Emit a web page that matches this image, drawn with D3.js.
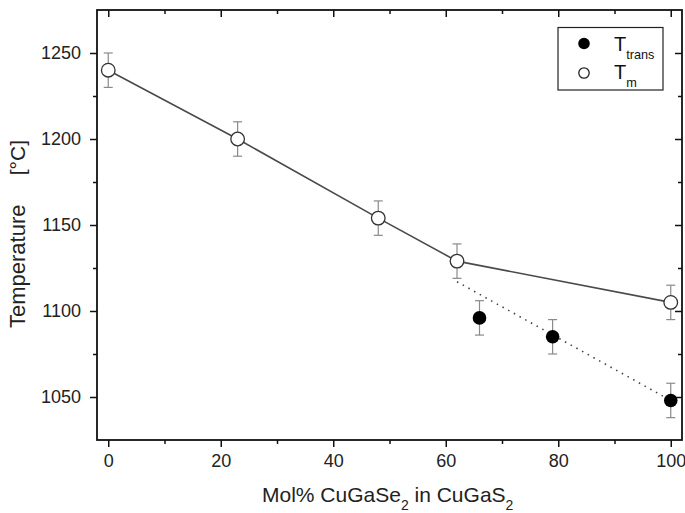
<!DOCTYPE html>
<html>
<head>
<meta charset="utf-8">
<script src="https://cdn.jsdelivr.net/npm/d3@7"></script>
<style>
  body { margin: 0; background: #fff; }
  svg { font-family: "Liberation Sans", Arial, sans-serif; }
</style>
</head>
<body>
<svg width="685" height="513"></svg>
<script>
// data
var meltX = [0, 23, 48, 62, 100];
var meltY = [1240, 1200, 1154, 1129, 1105];
var meltErr = [10, 10, 10, 10, 10];

var transX = [66, 79, 100];
var transY = [1096, 1085, 1048];
var transErr = [10, 10, 10];

// dotted guide through the transition points
var fitX = [62, 100];
var fitY = [1117, 1048];

var xTicks = [0, 20, 40, 60, 80, 100];
var yTicks = [1050, 1100, 1150, 1200, 1250];

var svg = d3.select("svg");
var box = { left: 97, right: 682, top: 10, bottom: 440 };

var x = d3.scaleLinear().domain([-2, 102]).range([box.left, box.right]);
var y = d3.scaleLinear().domain([1025, 1275]).range([box.bottom, box.top]);

var minorX = d3.range(0, 101, 10);
var minorY = d3.range(1050, 1275, 25);

// axes: outer ticks on left/bottom, inner ticks on top/right
var axBottom = svg.append("g")
    .attr("transform", `translate(0, ${box.bottom})`)
    .call(d3.axisBottom(x).tickValues(minorX).tickSize(7).tickPadding(7)
      .tickFormat(d => xTicks.includes(d) ? d : ""));
axBottom.selectAll(".tick line").filter(d => !xTicks.includes(d)).attr("y2", 4);

var axLeft = svg.append("g")
    .attr("transform", `translate(${box.left}, 0)`)
    .call(d3.axisLeft(y).tickValues(minorY).tickSize(7).tickPadding(9)
      .tickFormat(d => yTicks.includes(d) ? d : ""));
axLeft.selectAll(".tick line").filter(d => !yTicks.includes(d)).attr("x2", -4);

var axTop = svg.append("g")
    .attr("transform", `translate(0, ${box.top})`)
    .call(d3.axisTop(x).tickValues(minorX).tickSize(-7).tickFormat(""));
axTop.selectAll(".tick line").filter(d => !xTicks.includes(d)).attr("y2", 4);

var axRight = svg.append("g")
    .attr("transform", `translate(${box.right}, 0)`)
    .call(d3.axisRight(y).tickValues(minorY).tickSize(-7).tickFormat(""));
axRight.selectAll(".tick line").filter(d => !yTicks.includes(d)).attr("x2", -4);

svg.selectAll(".domain").remove();
svg.selectAll(".tick line").attr("stroke", "#111").attr("stroke-width", 1.5);
svg.selectAll(".tick text").attr("font-size", 18).attr("fill", "#222")
    .attr("font-family", "Liberation Sans, Arial, sans-serif");

svg.append("rect")
    .attr("x", box.left).attr("y", box.top)
    .attr("width", box.right - box.left).attr("height", box.bottom - box.top)
    .attr("fill", "none").attr("stroke", "#111").attr("stroke-width", 1.8);

// lines
var melt = meltX.map((d, i) => ({ x: d, y: meltY[i], e: meltErr[i] }));
var trans = transX.map((d, i) => ({ x: d, y: transY[i], e: transErr[i] }));
var fit = fitX.map((d, i) => ({ x: d, y: fitY[i] }));

var line = d3.line().x(d => x(d.x)).y(d => y(d.y));

svg.append("path")
    .attr("d", line(fit))
    .attr("fill", "none")
    .attr("stroke", "#444")
    .attr("stroke-width", 1.6)
    .attr("stroke-dasharray", "1.5 5");

svg.append("path")
    .attr("d", line(melt))
    .attr("fill", "none")
    .attr("stroke", "#4a4a4a")
    .attr("stroke-width", 1.6);

// error bars
function errorBars(data) {
  var g = svg.append("g").attr("stroke", "#8a8a8a").attr("stroke-width", 1.2);
  data.forEach(d => {
    var cx = x(d.x);
    g.append("line").attr("x1", cx).attr("x2", cx).attr("y1", y(d.y - d.e)).attr("y2", y(d.y + d.e));
    [d.y - d.e, d.y + d.e].forEach(v => {
      g.append("line").attr("x1", cx - 4.5).attr("x2", cx + 4.5).attr("y1", y(v)).attr("y2", y(v));
    });
  });
}
errorBars(melt);
errorBars(trans);

svg.selectAll(".melt")
  .data(melt)
  .enter()
  .append("circle")
    .attr("cx", d => x(d.x))
    .attr("cy", d => y(d.y))
    .attr("r", 6.8)
    .attr("fill", "#fff")
    .attr("stroke", "#333")
    .attr("stroke-width", 1.3);

svg.selectAll(".trans")
  .data(trans)
  .enter()
  .append("circle")
    .attr("cx", d => x(d.x))
    .attr("cy", d => y(d.y))
    .attr("r", 6.8)
    .attr("fill", "#000");

// legend
var lg = svg.append("g");
lg.append("rect")
    .attr("x", 558).attr("y", 27.5).attr("width", 105).attr("height", 62.5)
    .attr("fill", "#fff").attr("stroke", "#222").attr("stroke-width", 1.2);
lg.append("circle").attr("cx", 584).attr("cy", 43.5).attr("r", 5.8).attr("fill", "#000");
lg.append("circle").attr("cx", 584).attr("cy", 73).attr("r", 5.2)
    .attr("fill", "#fff").attr("stroke", "#222").attr("stroke-width", 1.3);

var t1 = lg.append("text").attr("x", 614).attr("y", 50.7).attr("font-size", 20).attr("fill", "#111");
t1.append("tspan").text("T");
t1.append("tspan").attr("dy", 8.3).attr("font-size", 12.7).text("trans");
var t2 = lg.append("text").attr("x", 614).attr("y", 79).attr("font-size", 20).attr("fill", "#111");
t2.append("tspan").text("T");
t2.append("tspan").attr("dy", 8.3).attr("font-size", 12.7).text("m");

// axis titles
var xt = svg.append("text")
    .attr("x", 262).attr("y", 501.7)
    .attr("font-size", 21).attr("fill", "#222");
xt.append("tspan").text("Mol% CuGaSe");
xt.append("tspan").attr("dy", 8).attr("font-size", 14).text("2");
xt.append("tspan").attr("dy", -8).text(" in CuGaS");
xt.append("tspan").attr("dy", 8).attr("font-size", 14).text("2");

svg.append("text")
    .attr("transform", "translate(25, 328) rotate(-90)")
    .attr("font-size", 22).attr("fill", "#222")
    .text("Temperature");
svg.append("text")
    .attr("transform", "translate(25, 140) rotate(-90)")
    .attr("text-anchor", "end")
    .attr("font-size", 21).attr("fill", "#222")
    .text("[°C]");
</script>
</body>
</html>
